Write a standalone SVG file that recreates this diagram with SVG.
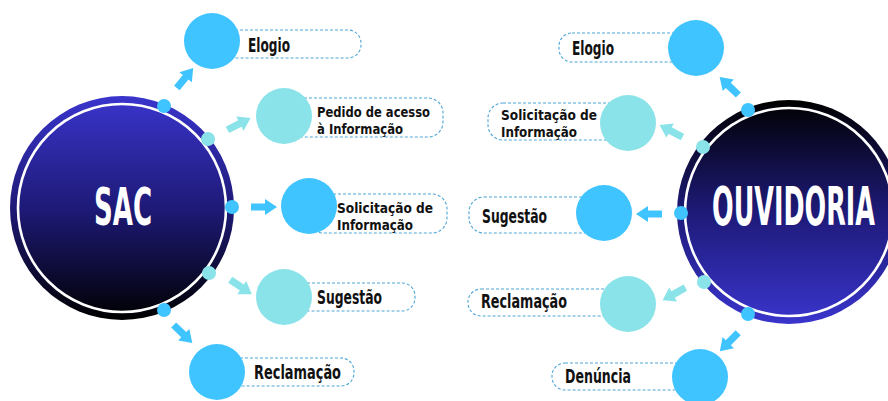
<svg xmlns="http://www.w3.org/2000/svg" width="888" height="401" viewBox="0 0 888 401">
<defs>
<linearGradient id="gSac" x1="0" y1="0" x2="0" y2="1">
<stop offset="0" stop-color="#3a35cc"/>
<stop offset="0.5" stop-color="#1e1a78"/>
<stop offset="1" stop-color="#000000"/>
</linearGradient>
<linearGradient id="gOuv" x1="0" y1="0" x2="0" y2="1">
<stop offset="0" stop-color="#000000"/>
<stop offset="0.5" stop-color="#1e1a78"/>
<stop offset="1" stop-color="#3a35cc"/>
</linearGradient>
<path id="arr" d="M-13,-3.6 H1 V-8 L13,0 L1,8 V3.6 H-13 Z"/>
</defs>
<style>
.box{fill:#ffffff;stroke:#4ea6d6;stroke-width:1.1;stroke-dasharray:3 2}
.blue{fill:#40c4ff}
.cyan{fill:#8ae3e8}
.lbl{font-family:"DejaVu Sans Condensed","DejaVu Sans",sans-serif;font-weight:bold;fill:#111111}
.big{font-family:"DejaVu Sans Condensed","DejaVu Sans",sans-serif;font-weight:bold;fill:#ffffff}
.ring{fill:none;stroke:#ffffff;stroke-width:2.6}
</style>
<rect width="888" height="401" fill="#ffffff"/>

<g id="sac">
<circle cx="122" cy="208" r="112" fill="url(#gSac)"/>
<circle cx="122" cy="208" r="104" class="ring"/>
<text class="big" x="123" y="225" font-size="52" text-anchor="middle" textLength="58" lengthAdjust="spacingAndGlyphs">SAC</text>
<circle class="blue" cx="164" cy="106" r="7"/>
<circle class="cyan" cx="208" cy="139" r="7"/>
<circle class="blue" cx="232" cy="207" r="7"/>
<circle class="cyan" cx="209" cy="273" r="7"/>
<circle class="blue" cx="164" cy="310" r="7"/>
</g>

<g id="ouvidoria">
<circle cx="789" cy="212" r="112" fill="url(#gOuv)"/>
<circle cx="789" cy="212" r="104" class="ring"/>
<text class="big" transform="translate(712,225) scale(1,1.93)" x="0" y="0" font-size="28" textLength="163" lengthAdjust="spacingAndGlyphs">OUVIDORIA</text>
<circle class="blue" cx="748" cy="110" r="7"/>
<circle class="cyan" cx="703" cy="147" r="7"/>
<circle class="blue" cx="681" cy="213" r="7"/>
<circle class="cyan" cx="704" cy="282" r="7"/>
<circle class="blue" cx="748" cy="314" r="7"/>
</g>

<g id="connectors">
<use href="#arr" class="blue" transform="translate(185,78) rotate(-51)"/>
<use href="#arr" class="cyan" transform="translate(239,124) rotate(-27)"/>
<use href="#arr" class="blue" transform="translate(264,207)"/>
<use href="#arr" class="cyan" transform="translate(241,287) rotate(34)"/>
<use href="#arr" class="blue" transform="translate(183,334) rotate(44)"/>
<use href="#arr" class="blue" transform="translate(729,86) rotate(-136)"/>
<use href="#arr" class="cyan" transform="translate(671,131) rotate(-152)"/>
<use href="#arr" class="blue" transform="translate(649,214) rotate(180)"/>
<use href="#arr" class="cyan" transform="translate(674,294) rotate(151)"/>
<use href="#arr" class="blue" transform="translate(729,342) rotate(135)"/>
</g>

<g id="sac-elogio">
<rect class="box" x="212" y="30" width="149" height="28" rx="13"/>
<circle class="blue" cx="212" cy="41" r="28"/>
<text class="lbl" x="248" y="52" font-size="20" textLength="42" lengthAdjust="spacingAndGlyphs">Elogio</text>
</g>
<g id="sac-pedido">
<rect class="box" x="284" y="98" width="159" height="39" rx="15"/>
<circle class="cyan" cx="284" cy="116" r="28"/>
<text class="lbl" font-size="14.5"><tspan x="317" y="117" textLength="113" lengthAdjust="spacingAndGlyphs">Pedido de acesso</tspan><tspan x="317" y="134" textLength="86" lengthAdjust="spacingAndGlyphs">à Informação</tspan></text>
</g>
<g id="sac-solicitacao">
<rect class="box" x="308" y="194" width="139" height="39" rx="15"/>
<circle class="blue" cx="309" cy="206" r="28"/>
<text class="lbl" font-size="14.5"><tspan x="337" y="213" textLength="96" lengthAdjust="spacingAndGlyphs">Solicitação de</tspan><tspan x="337" y="230" textLength="76" lengthAdjust="spacingAndGlyphs">Informação</tspan></text>
</g>
<g id="sac-sugestao">
<rect class="box" x="284" y="283" width="131" height="28" rx="13"/>
<circle class="cyan" cx="284" cy="297" r="28"/>
<text class="lbl" x="317" y="304" font-size="20" textLength="65" lengthAdjust="spacingAndGlyphs">Sugestão</text>
</g>
<g id="sac-reclamacao">
<rect class="box" x="217" y="358" width="137" height="28" rx="13"/>
<circle class="blue" cx="217" cy="372" r="28"/>
<text class="lbl" x="254" y="379" font-size="20" textLength="87" lengthAdjust="spacingAndGlyphs">Reclamação</text>
</g>

<g id="ouv-elogio">
<rect class="box" x="559" y="33" width="137" height="29" rx="13"/>
<circle class="blue" cx="696" cy="48" r="28"/>
<text class="lbl" x="572" y="55" font-size="20" textLength="42" lengthAdjust="spacingAndGlyphs">Elogio</text>
</g>
<g id="ouv-solicitacao">
<rect class="box" x="488" y="103" width="140" height="37" rx="15"/>
<circle class="cyan" cx="628" cy="123" r="28"/>
<text class="lbl" font-size="14.5"><tspan x="501" y="120" textLength="96" lengthAdjust="spacingAndGlyphs">Solicitação de</tspan><tspan x="501" y="137" textLength="76" lengthAdjust="spacingAndGlyphs">Informação</tspan></text>
</g>
<g id="ouv-sugestao">
<rect class="box" x="469" y="197" width="135" height="36" rx="15"/>
<circle class="blue" cx="604" cy="213" r="28"/>
<text class="lbl" x="482" y="223" font-size="20" textLength="65" lengthAdjust="spacingAndGlyphs">Sugestão</text>
</g>
<g id="ouv-reclamacao">
<rect class="box" x="468" y="289" width="160" height="27" rx="13"/>
<circle class="cyan" cx="628" cy="304" r="28"/>
<text class="lbl" x="481" y="308" font-size="20" textLength="86" lengthAdjust="spacingAndGlyphs">Reclamação</text>
</g>
<g id="ouv-denuncia">
<rect class="box" x="552" y="363" width="148" height="27" rx="13"/>
<circle class="blue" cx="700" cy="377" r="28"/>
<text class="lbl" x="565" y="383" font-size="20" textLength="66" lengthAdjust="spacingAndGlyphs">Denúncia</text>
</g>
</svg>
